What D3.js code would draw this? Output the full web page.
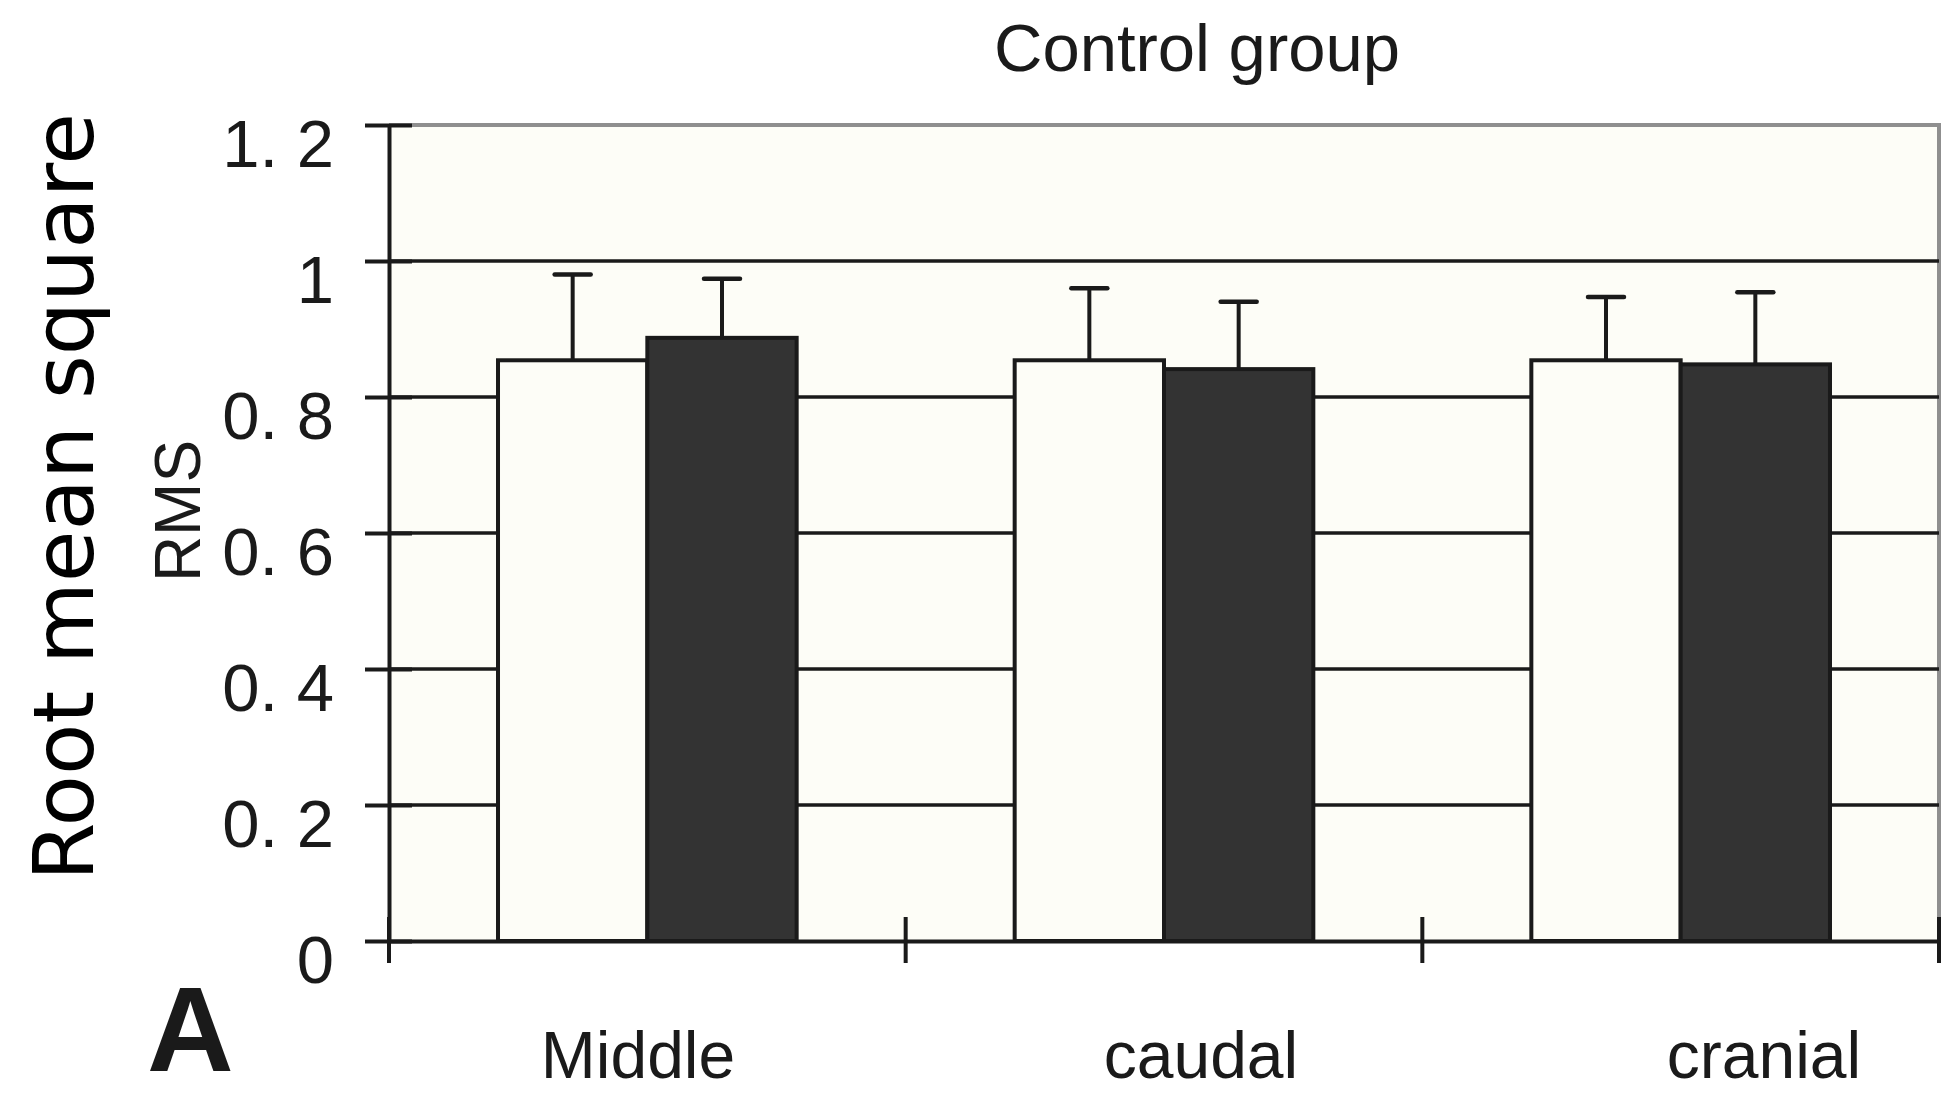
<!DOCTYPE html>
<html>
<head>
<meta charset="utf-8">
<script src="https://cdn.jsdelivr.net/npm/d3@7"></script>
<style>
  body { margin: 0; background: #fff; }
  text { font-family: 'Liberation Sans', Arial, sans-serif; fill: #1a1a1a; }
</style>
</head>
<body>
<svg id="chart" width="1948" height="1095"></svg>
<script>
// data
const categories = ['Middle', 'caudal', 'cranial']
const series = ['open', 'filled']
const openValues = [0.854, 0.854, 0.854]
const openErrors = [0.126, 0.106, 0.093]
const filledValues = [0.887, 0.841, 0.848]
const filledErrors = [0.087, 0.099, 0.106]
const yTicks = [0, 0.2, 0.4, 0.6, 0.8, 1, 1.2]
const yTickLabels = ['0', '0. 2', '0. 4', '0. 6', '0. 8', '1', '1. 2']
const gridValues = [0.2, 0.4, 0.6, 0.8, 1]

const width = 1948
const height = 1095
const margin = { top: 125, right: 9, bottom: 154, left: 389 }
const ink = '#1a1a1a'
const paper = '#fdfdf7'

const svg = d3.select('#chart')
const aWidth = width - margin.left - margin.right
const aHeight = height - margin.top - margin.bottom

const xScale = d3.scaleBand().domain(categories).range([0, aWidth])
const xInner = d3.scaleBand().domain(series).range([0, xScale.bandwidth()])
  .paddingInner(0).paddingOuter(0.73)
const yScale = d3.scaleLinear().domain([0, 1.2]).range([aHeight, 0])
const labelScale = d3.scalePoint().domain(categories).range([249, 1375])

const rows = categories.map((c, i) => ({
  cat: c,
  bars: [
    { key: 'open', value: openValues[i], err: openErrors[i], fill: paper },
    { key: 'filled', value: filledValues[i], err: filledErrors[i], fill: '#333333' }
  ]
}))

const g = svg.append('g')
  .attr('transform', 'translate(' + margin.left + ',' + margin.top + ')')

// plot background
g.append('rect')
  .attr('width', aWidth)
  .attr('height', aHeight)
  .attr('fill', paper)

// top and right frame (grey)
g.append('path')
  .attr('d', 'M0,' + yScale(1.2) + 'H' + aWidth + 'V' + yScale(0))
  .attr('fill', 'none')
  .attr('stroke', '#8f8f8f')
  .attr('stroke-width', 4)

// gridlines
g.selectAll('.grid').data(gridValues).enter()
  .append('line')
  .attr('class', 'grid')
  .attr('x1', 0)
  .attr('x2', aWidth)
  .attr('y1', d => yScale(d))
  .attr('y2', d => yScale(d))
  .attr('stroke', ink)
  .attr('stroke-width', 3.5)

// bars
const groups = g.selectAll('.group').data(rows).enter()
  .append('g')
  .attr('class', 'group')
  .attr('transform', d => 'translate(' + xScale(d.cat) + ',0)')

groups.selectAll('rect').data(d => d.bars).enter()
  .append('rect')
  .attr('x', d => xInner(d.key))
  .attr('y', d => yScale(d.value))
  .attr('width', xInner.bandwidth())
  .attr('height', d => aHeight - yScale(d.value))
  .attr('fill', d => d.fill)
  .attr('stroke', ink)
  .attr('stroke-width', 4)

// error bars (upper only)
const errs = groups.selectAll('.err').data(d => d.bars).enter()
  .append('g')
  .attr('class', 'err')
  .attr('transform', d => 'translate(' + (xInner(d.key) + xInner.bandwidth() / 2) + ',0)')

errs.append('line')
  .attr('y1', d => yScale(d.value))
  .attr('y2', d => yScale(d.value + d.err))
  .attr('stroke', ink)
  .attr('stroke-width', 4)

errs.append('line')
  .attr('x1', -18)
  .attr('x2', 18)
  .attr('y1', d => yScale(d.value + d.err))
  .attr('y2', d => yScale(d.value + d.err))
  .attr('stroke', ink)
  .attr('stroke-width', 4.5)
  .attr('stroke-linecap', 'round')

// y axis
const yAxis = g.append('g')
  .attr('class', 'axis axis--y')
  .call(d3.axisLeft(yScale)
    .tickValues(yTicks)
    .tickFormat((d, i) => yTickLabels[i])
    .tickSizeOuter(0)
    .tickSizeInner(24))

yAxis.select('.domain').attr('stroke', ink).attr('stroke-width', 4)
yAxis.selectAll('.tick line')
  .attr('x1', -24)
  .attr('x2', 23)
  .attr('stroke', ink)
  .attr('stroke-width', 4)
yAxis.selectAll('.tick text')
  .attr('x', -55)
  .attr('dy', null)
  .attr('y', 41)
  .attr('fill', ink)
  .style('font-size', '67px')
  .style('font-family', "'Liberation Sans', Arial, sans-serif")

// x axis: line at zero with ticks on category boundaries
const xAxis = g.append('g')
  .attr('class', 'axis axis--x')
  .attr('transform', 'translate(0,' + aHeight + ')')
  .call(d3.axisBottom(xScale).tickSize(0).tickFormat(''))

xAxis.select('.domain').attr('stroke', ink).attr('stroke-width', 4)

const bounds = categories.map(c => xScale(c)).concat([xScale.range()[1]])
xAxis.selectAll('.bound').data(bounds).enter()
  .append('line')
  .attr('class', 'bound')
  .attr('x1', d => d)
  .attr('x2', d => d)
  .attr('y1', -24)
  .attr('y2', 22)
  .attr('stroke', ink)
  .attr('stroke-width', 4)

xAxis.selectAll('.cat').data(categories).enter()
  .append('text')
  .attr('class', 'cat')
  .attr('x', d => labelScale(d))
  .attr('y', 137)
  .attr('text-anchor', 'middle')
  .style('font-size', '66px')
  .text(d => d)

// titles
svg.append('text')
  .attr('x', 1197)
  .attr('y', 71)
  .attr('text-anchor', 'middle')
  .style('font-size', '67px')
  .text('Control group')

svg.append('text')
  .attr('transform', 'translate(200,511) rotate(-90)')
  .attr('text-anchor', 'middle')
  .style('font-size', '64px')
  .text('RMS')

svg.append('text')
  .attr('transform', 'translate(93,497) rotate(-90)')
  .attr('text-anchor', 'middle')
  .style('font-family', "'DejaVu Sans', sans-serif")
  .style('font-size', '84px')
  .style('fill', '#000')
  .text('Root mean square')

svg.append('text')
  .attr('x', 147)
  .attr('y', 1071)
  .style('font-size', '120px')
  .style('font-weight', 'bold')
  .text('A')
</script>
</body>
</html>
